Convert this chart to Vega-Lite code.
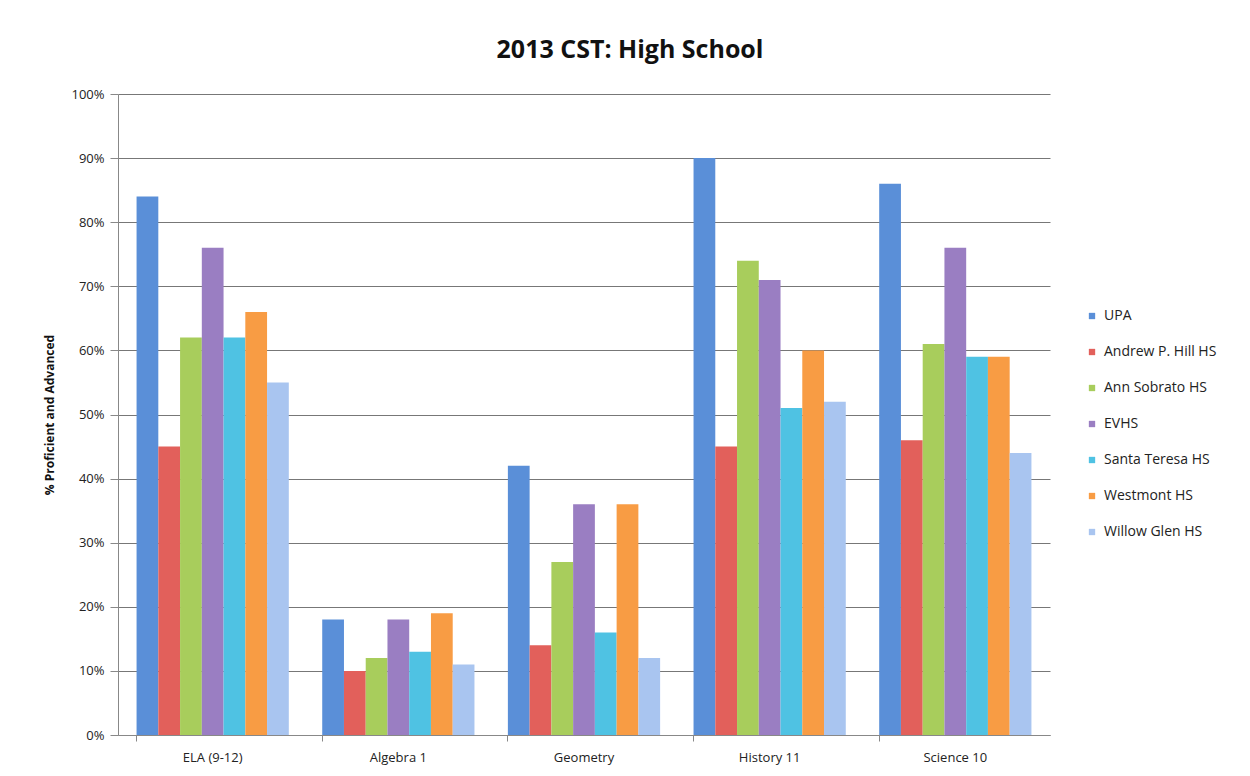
{
  "$schema": "https://vega.github.io/schema/vega-lite/v6.json",
  "autosize": {"type": "none"},
  "width": 932,
  "height": 641,
  "padding": {"left": 118, "top": 94, "right": 200, "bottom": 41},
  "background": "white",
  "title": {
    "text": "2013 CST: High School",
    "fontSize": 25,
    "font": "Open Sans",
    "fontWeight": "bold",
    "color": "#111",
    "anchor": "middle",
    "dx": 46,
    "offset": 25
  },
  "data": {
    "values": [
      {"subject": "ELA (9-12)", "school": "UPA", "pct": 84},
      {"subject": "ELA (9-12)", "school": "Andrew P. Hill HS", "pct": 45},
      {"subject": "ELA (9-12)", "school": "Ann Sobrato HS", "pct": 62},
      {"subject": "ELA (9-12)", "school": "EVHS", "pct": 76},
      {"subject": "ELA (9-12)", "school": "Santa Teresa HS", "pct": 62},
      {"subject": "ELA (9-12)", "school": "Westmont HS", "pct": 66},
      {"subject": "ELA (9-12)", "school": "Willow Glen HS", "pct": 55},
      {"subject": "Algebra 1", "school": "UPA", "pct": 18},
      {"subject": "Algebra 1", "school": "Andrew P. Hill HS", "pct": 10},
      {"subject": "Algebra 1", "school": "Ann Sobrato HS", "pct": 12},
      {"subject": "Algebra 1", "school": "EVHS", "pct": 18},
      {"subject": "Algebra 1", "school": "Santa Teresa HS", "pct": 13},
      {"subject": "Algebra 1", "school": "Westmont HS", "pct": 19},
      {"subject": "Algebra 1", "school": "Willow Glen HS", "pct": 11},
      {"subject": "Geometry", "school": "UPA", "pct": 42},
      {"subject": "Geometry", "school": "Andrew P. Hill HS", "pct": 14},
      {"subject": "Geometry", "school": "Ann Sobrato HS", "pct": 27},
      {"subject": "Geometry", "school": "EVHS", "pct": 36},
      {"subject": "Geometry", "school": "Santa Teresa HS", "pct": 16},
      {"subject": "Geometry", "school": "Westmont HS", "pct": 36},
      {"subject": "Geometry", "school": "Willow Glen HS", "pct": 12},
      {"subject": "History 11", "school": "UPA", "pct": 90},
      {"subject": "History 11", "school": "Andrew P. Hill HS", "pct": 45},
      {"subject": "History 11", "school": "Ann Sobrato HS", "pct": 74},
      {"subject": "History 11", "school": "EVHS", "pct": 71},
      {"subject": "History 11", "school": "Santa Teresa HS", "pct": 51},
      {"subject": "History 11", "school": "Westmont HS", "pct": 60},
      {"subject": "History 11", "school": "Willow Glen HS", "pct": 52},
      {"subject": "Science 10", "school": "UPA", "pct": 86},
      {"subject": "Science 10", "school": "Andrew P. Hill HS", "pct": 46},
      {"subject": "Science 10", "school": "Ann Sobrato HS", "pct": 61},
      {"subject": "Science 10", "school": "EVHS", "pct": 76},
      {"subject": "Science 10", "school": "Santa Teresa HS", "pct": 59},
      {"subject": "Science 10", "school": "Westmont HS", "pct": 59},
      {"subject": "Science 10", "school": "Willow Glen HS", "pct": 44}
    ]
  },
  "mark": {"type": "bar"},
  "encoding": {
    "x": {
      "field": "subject",
      "type": "nominal",
      "sort": null,
      "scale": {"paddingInner": 0.18, "paddingOuter": 0.1},
      "axis": {
        "title": null,
        "labelAngle": 0,
        "labelFontSize": 13,
        "labelFont": "Open Sans",
        "labelColor": "#222",
        "labelPadding": 10,
        "domainColor": "#888",
        "tickColor": "#888",
        "tickSize": 6,
        "bandPosition": 0,
        "grid": false
      }
    },
    "xOffset": {
      "field": "school",
      "type": "nominal",
      "sort": null,
      "scale": {"paddingInner": 0, "paddingOuter": 0}
    },
    "y": {
      "field": "pct",
      "type": "quantitative",
      "scale": {"domain": [0, 100]},
      "axis": {
        "title": "% Proficient and Advanced",
        "titleFont": "Open Sans",
        "titleFontSize": 12,
        "titleFontWeight": "bold",
        "titleColor": "#111",
        "titlePadding": 14,
        "values": [0, 10, 20, 30, 40, 50, 60, 70, 80, 90, 100],
        "labelExpr": "datum.value + '%'",
        "labelFont": "Open Sans",
        "labelFontSize": 13,
        "labelColor": "#222",
        "labelPadding": 6,
        "tickSize": 8,
        "tickColor": "#888",
        "domainColor": "#888",
        "gridColor": "#777",
        "gridWidth": 1
      }
    },
    "color": {
      "field": "school",
      "type": "nominal",
      "sort": null,
      "scale": {
        "domain": ["UPA", "Andrew P. Hill HS", "Ann Sobrato HS", "EVHS", "Santa Teresa HS", "Westmont HS", "Willow Glen HS"],
        "range": ["#5a8fd8", "#e2605b", "#a8cd5c", "#9a7ec2", "#4fc2e3", "#f89c44", "#a9c5f0"]
      },
      "legend": {
        "title": null,
        "orient": "none",
        "legendX": 967,
        "legendY": 215,
        "symbolType": "square",
        "symbolSize": 40,
        "symbolStrokeWidth": 0,
        "labelFont": "Open Sans",
        "labelFontSize": 14,
        "labelColor": "#222",
        "rowPadding": 22,
        "labelOffset": 5
      }
    }
  },
  "config": {
    "view": {"stroke": null}
  }
}
